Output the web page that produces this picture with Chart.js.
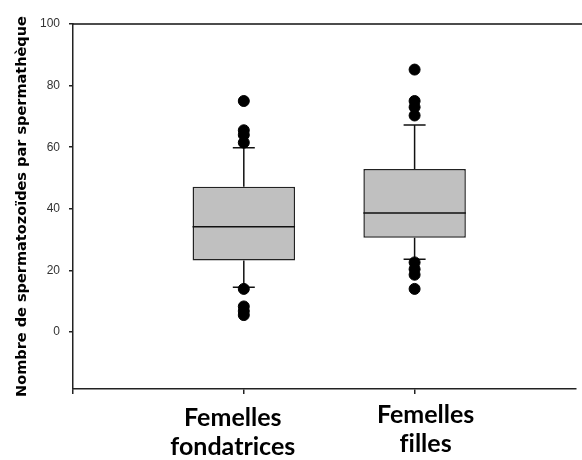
<!DOCTYPE html>
<html>
<head>
<meta charset="utf-8">
<script src="https://cdn.jsdelivr.net/npm/chart.js@4"></script>
<style>
  html, body { margin: 0; padding: 0; background: #fff; overflow: hidden; }
  canvas { display: block; }
</style>
</head>
<body>
<canvas id="boite" width="582" height="460"></canvas>
<script>
// ---------- donnees
let categories = [['Femelles', 'fondatrices'], ['Femelles', 'f\u200Cil\u200Cles']]
let positions = [1, 2]
let q1 = [23.2, 30.6]
let mediane = [34.2, 38.6]
let q3 = [47.2, 52.9]
let moustache_bas = [14.5, 23.6]
let moustache_haut = [59.8, 67.2]
let aberrants_fondatrices = [75, 65.5, 64, 61.5, 14, 8.3, 6.8, 5.5]
let aberrants_filles = [85.2, 75, 73, 70.3, 22.6, 20.4, 18.6, 14]
let ticks_y = [0, 20, 40, 60, 80, 100]

let boxes = positions.map((x, i) => ({ x: x, y: [q1[i], q3[i]] }))
let pts1 = aberrants_fondatrices.map(v => ({ x: positions[0], y: v }))
let pts2 = aberrants_filles.map(v => ({ x: positions[1], y: v }))

// decalage des etiquettes comme sur l'original (px)
let decal_x = [-11, 11]
let decal_y = [0, -3]

// moustaches, barres et medianes dessinees avec les echelles du graphique
const moustaches = {
  id: 'moustaches',
  beforeDatasetsDraw(chart) {
    let ctx = chart.ctx, xs = chart.scales.x, ys = chart.scales.y
    ctx.save()
    ctx.strokeStyle = '#111'
    ctx.lineWidth = 1.5
    positions.forEach((p, i) => {
      let px = xs.getPixelForValue(p)
      ctx.beginPath()
      ctx.moveTo(px, ys.getPixelForValue(q3[i]))
      ctx.lineTo(px, ys.getPixelForValue(moustache_haut[i]))
      ctx.moveTo(px, ys.getPixelForValue(q1[i]))
      ctx.lineTo(px, ys.getPixelForValue(moustache_bas[i]))
      ctx.moveTo(px - 11, ys.getPixelForValue(moustache_haut[i]))
      ctx.lineTo(px + 11, ys.getPixelForValue(moustache_haut[i]))
      ctx.moveTo(px - 11, ys.getPixelForValue(moustache_bas[i]))
      ctx.lineTo(px + 11, ys.getPixelForValue(moustache_bas[i]))
      ctx.stroke()
    })
    ctx.restore()
  },
  afterDatasetsDraw(chart) {
    let ctx = chart.ctx, ys = chart.scales.y, xs = chart.scales.x
    let barres = chart.getDatasetMeta(0).data
    ctx.save()
    ctx.strokeStyle = '#111'
    ctx.lineWidth = 1.5
    barres.forEach((b, i) => {
      let py = ys.getPixelForValue(mediane[i])
      ctx.beginPath()
      ctx.moveTo(b.x - b.width / 2, py)
      ctx.lineTo(b.x + b.width / 2, py)
      ctx.stroke()
    })
    // ligne du haut du cadre
    let a = chart.chartArea
    ctx.beginPath()
    ctx.moveTo(a.left, a.top)
    ctx.lineTo(chart.width, a.top)
    ctx.stroke()
    // etiquettes des categories
    ctx.fillStyle = '#000'
    ctx.font = 'bold 25px Lato'
    ctx.textAlign = 'center'
    ctx.textBaseline = 'alphabetic'
    positions.forEach((p, i) => {
      let px = xs.getPixelForValue(p) + decal_x[i]
      categories[i].forEach((ligne, k) => {
        ctx.fillText(ligne, px, a.bottom + 37 + k * 29 + decal_y[i])
      })
    })
    ctx.restore()
  }
}

let ct = document.getElementById('boite').getContext('2d')
let graphique = new Chart(ct, {
  type: 'bar',
  data: {
    datasets: [{
      data: boxes,
      backgroundColor: '#c0c0c0',
      borderColor: '#222',
      borderWidth: 1.5,
      borderSkipped: false,
      barPercentage: 0.6,
      categoryPercentage: 1,
      order: 2
    }, {
      type: 'scatter',
      data: pts1,
      backgroundColor: '#000',
      borderColor: '#000',
      pointRadius: 5.5,
      order: 1
    }, {
      type: 'scatter',
      data: pts2,
      backgroundColor: '#000',
      borderColor: '#000',
      pointRadius: 5.5,
      order: 1
    }]
  },
  options: {
    responsive: false,
    animation: false,
    layout: { padding: { top: 24, right: 0, left: 2, bottom: 0 } },
    plugins: { legend: { display: false }, tooltip: { enabled: false } },
    scales: {
      x: {
        type: 'linear',
        offset: false,
        min: 0,
        max: 2.942,
        afterBuildTicks: s => { s.ticks = [0, 1, 2].map(v => ({ value: v })) },
        afterFit: s => { s.height = 71; s.paddingLeft = 0; s.paddingRight = 0 },
        grid: { drawOnChartArea: false, offset: false, tickLength: 5, color: '#222', lineWidth: 1.5 },
        border: { color: '#222', width: 1.5 },
        ticks: {
          autoSkip: false,
          maxRotation: 0,
          padding: 0,
          callback: () => ''
        }
      },
      y: {
        min: -18.5,
        max: 100,
        afterBuildTicks: s => { s.ticks = ticks_y.map(v => ({ value: v })) },
        afterFit: s => { s.width = 71 },
        grid: { drawOnChartArea: false, tickLength: 4, color: '#222', lineWidth: 1.5 },
        border: { color: '#222', width: 1.5 },
        ticks: {
          padding: 9,
          color: '#333',
          font: { family: 'Liberation Sans', size: 12 }
        },
        title: {
          display: true,
          text: 'Nombre de spermatozoïdes par spermathèque',
          color: '#000',
          padding: { top: 12, bottom: 0 },
          font: { family: 'DejaVu Sans', weight: 'bold', size: 14.5 }
        }
      }
    }
  },
  plugins: [moustaches]
})
</script>
</body>
</html>
